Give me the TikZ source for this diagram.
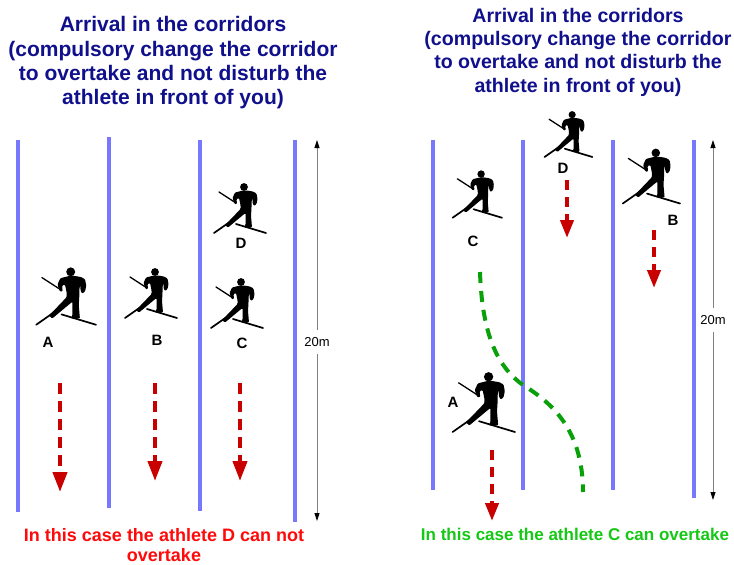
\documentclass[tikz,border=0pt]{standalone}
\usepackage{fontspec}
\setmainfont{Liberation Sans}
\usetikzlibrary{arrows.meta}
\definecolor{titleblue}{RGB}{16,16,140}
\definecolor{lanecol}{RGB}{120,120,255}
\definecolor{arrowred}{RGB}{200,0,0}
\definecolor{textred}{RGB}{255,10,10}
\definecolor{pathgreen}{RGB}{10,160,10}
\definecolor{textgreen}{RGB}{20,200,20}
\begin{document}
\begin{tikzpicture}[x=1pt,y=-1pt,
  lane/.style={lanecol, line width=4pt},
  title/.style={text=titleblue, inner sep=0pt, align=center},
  lbl/.style={font=\bfseries\fontsize{15}{15}\selectfont, inner sep=0pt},
  redarrow/.style={arrowred, line width=4pt, dash pattern=on 11pt off 7pt,
    -{Triangle[length=20pt,width=14pt]}},
  smallred/.style={arrowred, line width=4pt, dash pattern=on 10pt off 7pt,
    -{Triangle[length=18pt,width=13pt]}},
  greenpath/.style={pathgreen, line width=4pt, dash pattern=on 11pt off 8pt},
  dimline/.style={gray, line width=0.8pt, -{Triangle[length=8pt,width=5pt,color=black]}},
  dimlabel/.style={font=\fontsize{13}{13}\selectfont, inner xsep=0pt, inner ysep=7pt},
  verdict/.style={font=\bfseries\fontsize{17}{21}\selectfont, align=center, inner sep=0pt},
  skier/.pic={
    % pole
    \draw[line width=1.3pt, line cap=round] (-27,-16) -- (-10,-5);
    % trailing ski
    \draw[line width=1.7pt, line cap=round] (-32,25) -- (-12,11);
    % gliding ski
    \draw[line width=1.7pt, line cap=round] (-10,16) -- (20,25);
    % head
    \fill (-2,-21) circle (3.9);
    % body, arms and legs
    \fill[rounded corners=1pt] (-3,-17.5) -- (-11,-15.5) -- (-13.5,-10) -- (-11.5,-4)
      -- (-9,-4) -- (-9.5,-9) -- (-7,-10) -- (-5.5,-3) -- (-5.5,1)
      -- (-16,12) -- (-21,17) -- (-18,19.5) -- (-3,7) -- (-0.5,5) -- (-0.5,17)
      -- (-2,19.5) -- (6,19.5) -- (5,8) -- (5.5,0) -- (5.5,-6) -- (6.5,-10)
      -- (6.5,-5) -- (8,-2) -- (10.5,-4) -- (11.5,-9) -- (10.5,-14.5)
      -- (7,-16.5) -- (1,-17.5) -- cycle;
  }
]
\useasboundingbox (0,0) rectangle (734,565);
\fill[white] (0,0) rectangle (734,565);

% ---------------- left panel: no overtaking ----------------
\node[title, font=\bfseries\fontsize{21}{24.3}\selectfont] (titleL) at (173,63)
  {Arrival in the corridors\\(compulsory change the corridor\\to overtake and not disturb the\\athlete in front of you)};

\draw[lane] (18,140) -- (18,512);
\draw[lane] (109,137) -- (109,508);
\draw[lane] (200,140) -- (200,511);
\draw[lane] (295,140) -- (295,522);

\node[dimlabel] (dimL) at (317,342) {20m};
\coordinate (dimLtop) at (317,140);
\coordinate (dimLbot) at (317,521);
\draw[dimline] (dimL) -- (dimLtop);
\draw[dimline] (dimL) -- (dimLbot);

\pic[scale=1.15] at (73,296) {skier};
\pic at (157,293) {skier};
\pic at (243,303) {skier};
\pic at (246,208) {skier};
\node[lbl] (lA) at (48,342) {A};
\node[lbl] (lB) at (157,340) {B};
\node[lbl] (lC) at (242,343) {C};
\node[lbl] (lD) at (241,243) {D};

\coordinate (aL1) at (60,383);  \coordinate (aL2) at (60,492);
\coordinate (bL1) at (155,383); \coordinate (bL2) at (155,481);
\coordinate (cL1) at (240,383); \coordinate (cL2) at (240,481);
\draw[redarrow] (aL1) -- (aL2);
\draw[redarrow] (bL1) -- (bL2);
\draw[redarrow] (cL1) -- (cL2);

\node[verdict, text=textred, font=\bfseries\fontsize{18}{20.5}\selectfont] (verdictL) at (164,545)
  {In this case the athlete D can not\\overtake};

% ---------------- right panel: overtaking allowed ----------------
\node[title, font=\bfseries\fontsize{19.6}{23.3}\selectfont] (titleR) at (578,52)
  {Arrival in the corridors\\(compulsory change the corridor\\to overtake and not disturb the\\athlete in front of you)};

\draw[lane] (433,140) -- (433,490);
\draw[lane] (523,140) -- (523,490);
\draw[lane] (613,140) -- (613,490);
\draw[lane] (694,140) -- (694,498);

\node[dimlabel] (dimR) at (713,320) {20m};
\coordinate (dimRtop) at (713,140);
\coordinate (dimRbot) at (713,500);
\draw[dimline] (dimR) -- (dimRtop);
\draw[dimline] (dimR) -- (dimRbot);

\pic[scale=0.95] at (483,194) {skier};
\pic[scale=0.92] at (574,134) {skier};
\pic[scale=1.1] at (658,176) {skier};
\pic[scale=1.2] at (491,402) {skier};
\node[lbl] (rC) at (473,241) {C};
\node[lbl] (rD) at (563,168) {D};
\node[lbl] (rB) at (673,220) {B};
\node[lbl] (rA) at (453,402) {A};

\coordinate (dR1) at (567,180); \coordinate (dR2) at (567,238);
\coordinate (bR1) at (654,230); \coordinate (bR2) at (654,288);
\coordinate (aR1) at (492,450); \coordinate (aR2) at (492,521);
\draw[smallred] (dR1) -- (dR2);
\draw[smallred] (bR1) -- (bR2);
\draw[smallred] (aR1) -- (aR2);

% overtaking line of athlete C into the next corridor
\coordinate (g0) at (480,272);
\coordinate (g1) at (523,385);
\coordinate (g2) at (583,492);
\draw[greenpath] (g0) .. controls (482,330) and (495,365) .. (g1)
  .. controls (552,403) and (583,430) .. (g2);

\node[verdict, text=textgreen] (verdictR) at (575,534)
  {In this case the athlete C can overtake};
\end{tikzpicture}
\end{document}
